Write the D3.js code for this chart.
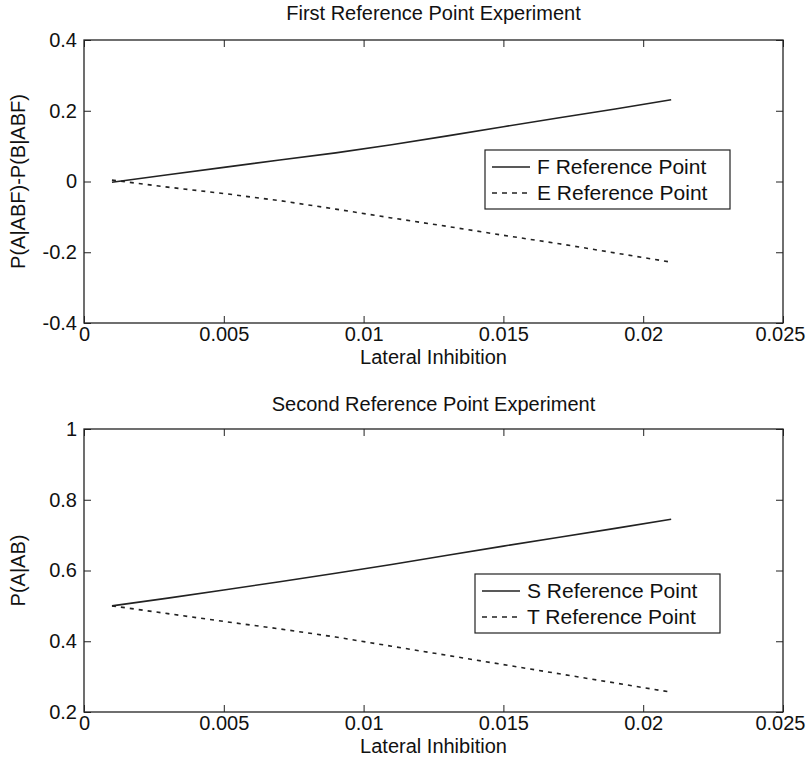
<!DOCTYPE html>
<html>
<head>
<meta charset="utf-8">
<script src="https://cdn.jsdelivr.net/npm/d3@7"></script>
<style>
  body { margin: 0; background: #fff; }
  text { font-family: "Liberation Sans", Arial, sans-serif; fill: #111; }
</style>
</head>
<body>
<svg id="chart" width="806" height="769"></svg>
<script>
// lateral inhibition values
var inhibition = [0.001, 0.003, 0.005, 0.007, 0.009, 0.011, 0.013, 0.015, 0.017, 0.019, 0.021];

// first experiment: P(A|ABF)-P(B|ABF)
var fRef = [-0.002, 0.019, 0.040, 0.061, 0.081, 0.104, 0.129, 0.155, 0.180, 0.205, 0.231];
var eRef = [0.004, -0.016, -0.034, -0.054, -0.078, -0.103, -0.127, -0.152, -0.176, -0.202, -0.228];

// second experiment: P(A|AB)
var sRef = [0.500, 0.522, 0.545, 0.568, 0.592, 0.617, 0.643, 0.669, 0.694, 0.719, 0.745];
var tRef = [0.500, 0.478, 0.456, 0.435, 0.412, 0.386, 0.360, 0.334, 0.308, 0.282, 0.256];

var xTicks = [0, 0.005, 0.01, 0.015, 0.02, 0.025];
var xTickLabels = ["0", "0.005", "0.01", "0.015", "0.02", "0.025"];
var yTicksTop = [-0.4, -0.2, 0, 0.2, 0.4];
var yTickLabelsTop = ["-0.4", "-0.2", "0", "0.2", "0.4"];
var yTicksBottom = [0.2, 0.4, 0.6, 0.8, 1];
var yTickLabelsBottom = ["0.2", "0.4", "0.6", "0.8", "1"];

var svg = d3.select("#chart");
var FONT = "20px";

/**
Draw one panel
*/
function drawPanel(opt){
  var g = svg.append("g");
  var x = d3.scaleLinear().domain([0, 0.025]).range([opt.left, opt.right]);
  var y = d3.scaleLinear().domain(opt.yDomain).range([opt.bottom, opt.top]);

  // box
  g.append("rect")
    .attr("x", opt.left).attr("y", opt.top)
    .attr("width", opt.right - opt.left).attr("height", opt.bottom - opt.top)
    .style("fill", "none").style("stroke", "#222").style("stroke-width", "1.3px");

  var tickLen = 7;
  // x axis ticks (bottom and top, inward)
  var xa = d3.axisBottom(x).tickValues(xTicks)
    .tickFormat(function(d, i){ return xTickLabels[i]; })
    .tickSizeInner(-tickLen).tickSizeOuter(0).tickPadding(4);
  var xg = g.append("g").attr("transform", "translate(0," + opt.bottom + ")").call(xa);
  xg.select(".domain").remove();
  xg.selectAll("text").style("font-size", FONT).style("fill", "#111");
  xg.selectAll("line").style("stroke", "#222");
  // last label sits at the right edge of the page, pull it in a bit
  xg.selectAll("text").filter(function(d){ return d == 0.025; })
    .attr("text-anchor", "end").attr("x", 22);

  var xt = d3.axisTop(x).tickValues(xTicks).tickFormat("")
    .tickSizeInner(-tickLen).tickSizeOuter(0);
  var xtg = g.append("g").attr("transform", "translate(0," + opt.top + ")").call(xt);
  xtg.select(".domain").remove();
  xtg.selectAll("line").style("stroke", "#222");

  // y axis ticks (left and right, inward)
  var ya = d3.axisLeft(y).tickValues(opt.yTicks)
    .tickFormat(function(d, i){ return opt.yLabels[i]; })
    .tickSizeInner(-tickLen).tickSizeOuter(0).tickPadding(7);
  var yg = g.append("g").attr("transform", "translate(" + opt.left + ",0)").call(ya);
  yg.select(".domain").remove();
  yg.selectAll("text").style("font-size", FONT).style("fill", "#111");
  yg.selectAll("line").style("stroke", "#222");

  var yr = d3.axisRight(y).tickValues(opt.yTicks).tickFormat("")
    .tickSizeInner(-tickLen).tickSizeOuter(0);
  var yrg = g.append("g").attr("transform", "translate(" + opt.right + ",0)").call(yr);
  yrg.select(".domain").remove();
  yrg.selectAll("line").style("stroke", "#222");

  // title and axis labels
  g.append("text")
    .attr("x", (opt.left + opt.right) / 2).attr("y", opt.top - opt.titleGap)
    .attr("text-anchor", "middle").style("font-size", FONT)
    .text(opt.title);
  g.append("text")
    .attr("x", (opt.left + opt.right) / 2).attr("y", opt.bottom + 41)
    .attr("text-anchor", "middle").style("font-size", FONT)
    .text("Lateral Inhibition");
  g.append("text")
    .attr("transform", "translate(" + 25 + "," + (opt.top + opt.bottom) / 2 + ") rotate(-90)")
    .attr("text-anchor", "middle").style("font-size", FONT)
    .text(opt.yTitle);

  // series
  var line = d3.line()
    .x(function(d){ return x(d[0]); })
    .y(function(d){ return y(d[1]); });

  opt.series.forEach(function(s){
    g.append("path")
      .datum(d3.zip(inhibition, s.values))
      .attr("d", line)
      .style("fill", "none")
      .style("stroke", "#222")
      .style("stroke-width", "1.6px")
      .style("stroke-dasharray", s.dashed ? "4,5" : null);
  });

  // legend
  var lg = g.append("g").attr("transform", "translate(" + opt.legend[0] + "," + opt.legend[1] + ")");
  lg.append("rect")
    .attr("x", 0).attr("y", 0).attr("width", 245).attr("height", 59)
    .style("fill", "#fff").style("stroke", "#222").style("stroke-width", "1.2px");
  opt.series.forEach(function(s, i){
    var yy = 17 + i * 26;
    lg.append("line")
      .attr("x1", 7).attr("x2", 45).attr("y1", yy).attr("y2", yy)
      .style("stroke", "#222").style("stroke-width", "1.3px")
      .style("stroke-dasharray", s.dashed ? "5,5" : null);
    lg.append("text")
      .attr("x", 52).attr("y", yy + 7)
      .style("font-size", "21px")
      .text(s.name);
  });
}

drawPanel({
  left: 84, right: 783, top: 40, bottom: 323, titleGap: 20,
  yDomain: [-0.4, 0.4], yTicks: yTicksTop, yLabels: yTickLabelsTop,
  title: "First Reference Point Experiment",
  yTitle: "P(A|ABF)-P(B|ABF)",
  legend: [485, 150],
  series: [
    { name: "F Reference Point", values: fRef, dashed: false },
    { name: "E Reference Point", values: eRef, dashed: true }
  ]
});

drawPanel({
  left: 84, right: 783, top: 429, bottom: 712, titleGap: 18,
  yDomain: [0.2, 1], yTicks: yTicksBottom, yLabels: yTickLabelsBottom,
  title: "Second Reference Point Experiment",
  yTitle: "P(A|AB)",
  legend: [475, 574],
  series: [
    { name: "S Reference Point", values: sRef, dashed: false },
    { name: "T Reference Point", values: tRef, dashed: true }
  ]
});
</script>
</body>
</html>
